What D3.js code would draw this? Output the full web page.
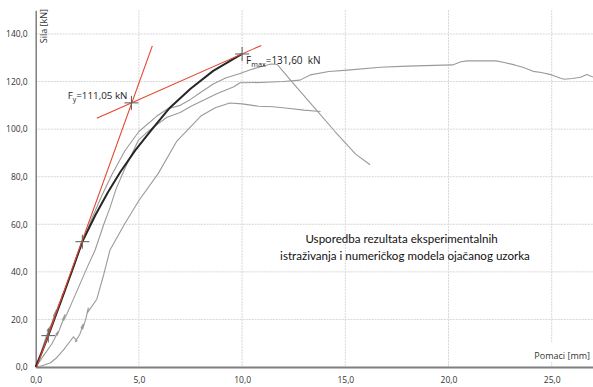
<!DOCTYPE html>
<html><head><meta charset="utf-8">
<script src="https://cdn.jsdelivr.net/npm/d3@7"></script>
<style>body{margin:0;background:#fff}svg{display:block}text{white-space:pre}</style>
</head><body>
<svg id="c" width="593" height="387"></svg>
<script>
const xTicks = [0, 5, 10, 15, 20, 25];
const yTicks = [0, 20, 40, 60, 80, 100, 120, 140];
const xLabel = "Pomaci [mm]";
const yLabel = "Sila [kN]";
const titleLines = ["Usporedba rezultata eksperimentalnih", "istraživanja i numeričkog modela ojačanog uzorka"];

const blackCurve = [[0,0],[0.3,6.3],[0.61,13.2],[1.2,27],[1.7,39],[2.26,52.7],[2.9,64],[3.5,73.5],[4.1,82],[4.83,91.2],[5.6,99.6],[6.5,109],[7.5,117],[8.6,124.5],[9.4,128.6],[10,131.6]];
const grayA = [[0,0],[0.25,6],[0.5,12.5],[0.7,17],[0.55,15.2],[0.62,15],[0.78,18.5],[1.0,24],[0.86,21.5],[0.92,21.2],[1.1,26],[1.4,32],[1.27,30],[1.33,29.8],[1.5,34.5],[1.8,41],[2.2,51],[2.7,62],[3.2,72],[3.7,81],[4.33,91],[5.0,99],[5.87,105.5],[6.4,108.6],[7.0,110],[7.5,112.5],[8.0,115.5],[8.6,119],[9.2,121.5],[9.9,123.4],[10.4,125],[10.9,126.2],[11.4,127.4],[11.7,127.2],[12.5,119],[13.5,109],[14.5,99],[15.5,89.5],[16.2,85]];
const grayB = [[0,0],[0.4,5],[0.8,10],[1.1,15],[0.98,13.8],[1.05,13.4],[1.25,18],[1.42,22],[1.3,20],[1.36,19.6],[1.55,23],[1.8,28],[2.2,36],[2.5,42],[2.88,49.2],[3.3,60],[3.6,67],[3.9,75],[4.3,83],[4.98,95.4],[5.5,99.5],[6.36,105],[7.0,107],[7.5,109.5],[8.2,112.5],[8.8,115],[9.6,117.8],[9.9,119.5],[10.9,119.6],[12.0,120],[12.8,120.6],[13.3,122.8],[14.2,124.2],[15.1,124.8],[16.7,126],[18,126.5],[20.2,127],[20.6,128.3],[20.9,128.7],[22.3,128.7],[22.7,128],[23.2,127],[23.6,126],[24.1,124.3],[24.5,123.8],[25,122.8],[25.4,121.5],[25.6,121],[26,121.3],[26.4,121.8],[26.7,123],[27,121.9]];
const grayC = [[0,0],[0.3,0.5],[0.7,1.7],[1.0,3.8],[1.34,7.1],[1.83,12.7],[2.0,11],[1.92,10.6],[2.15,14],[2.3,18],[2.2,16.5],[2.28,16],[2.45,21],[2.55,24.8],[2.48,22.5],[2.6,24],[2.96,28.5],[3.3,39],[3.6,49.2],[4.3,60],[5.0,70],[5.94,81.4],[6.84,95],[7.5,101],[8.0,105.5],[8.7,109],[9.4,111],[10,110.6],[10.8,109.6],[11.5,109.4],[12.2,108.8],[13,108],[13.8,107.4]];
const redSteep = [[0.05,0],[5.65,135]];
const redShallow = [[2.96,104.6],[10.93,135.2]];
const markers = [[0.61,13.2],[2.26,52.7],[4.64,111.05],[10,131.6]];
const fyText = ["F", "y", "=111,05 kN"];
const fmaxText = ["F", "max", "=131,60  kN"];
const fyPoint = [4.64, 111.05];
const fmaxPoint = [10, 131.6];

const svg = d3.select("#c");
const W = 593, H = 387;
const m = {l: 35.7, r: 0, t: 10.2, b: 20};
const x = d3.scaleLinear().domain([0, 27]).range([m.l, W - m.r]);
const y = d3.scaleLinear().domain([0, 150]).range([H - m.b, m.t]);
const fmt = v => d3.format(".1f")(v).replace(".", ",");
const FONT = "'Open Sans', 'Liberation Sans', sans-serif";

// grid
const grid = svg.append("g");
grid.selectAll(".gy").data(yTicks.filter(d => d > 0)).join("line")
  .attr("x1", m.l).attr("x2", W).attr("y1", d => y(d)).attr("y2", d => y(d))
  .attr("stroke", "#d6d6d6").attr("stroke-width", 1).attr("stroke-dasharray", "2,1");
grid.selectAll(".gx").data(xTicks.filter(d => d > 0)).join("line")
  .attr("x1", d => x(d)).attr("x2", d => x(d)).attr("y1", m.t).attr("y2", y(0))
  .attr("stroke", "#d6d6d6").attr("stroke-width", 1).attr("stroke-dasharray", "2,1");

// axes
const yAxis = d3.axisLeft(y).tickValues(yTicks).tickFormat(fmt).tickSize(0).tickPadding(8);
const gy = svg.append("g").attr("transform", `translate(${m.l},0)`).call(yAxis);
gy.select(".domain").attr("stroke", "#7f7f7f").attr("stroke-width", 1.5);
gy.selectAll("text").attr("font-family", FONT).attr("font-size", 8.5).attr("fill", "#333");

const xAxis = d3.axisBottom(x).tickValues(xTicks).tickFormat(fmt).tickSize(0).tickPadding(10);
const gx = svg.append("g").attr("transform", `translate(0,${y(0)})`).call(xAxis);
gx.select(".domain").attr("stroke", "#7f7f7f").attr("stroke-width", 2);
gx.selectAll("text").attr("font-family", FONT).attr("font-size", 8.5).attr("fill", "#333");

// axis labels
const xl = svg.append("g");
const xlt = xl.append("text").attr("x", W - 3).attr("y", y(0) - 8).attr("text-anchor", "end")
  .attr("font-family", FONT).attr("font-size", 9).attr("fill", "#333").text(xLabel);
const bb = xlt.node().getBBox();
xl.insert("rect", "text").attr("x", bb.x - 2).attr("y", bb.y - 6).attr("width", bb.width + 4).attr("height", bb.height + 6).attr("fill", "#fff");

svg.append("text").attr("transform", `translate(${m.l + 11},${m.t + 33}) rotate(-90)`)
  .attr("font-family", FONT).attr("font-size", 9).attr("fill", "#333").text(yLabel);

// curves
const line = d3.line().x(d => x(d[0])).y(d => y(d[1]));
const curves = svg.append("g").attr("fill", "none");
[grayA, grayB, grayC].forEach(c => curves.append("path").attr("d", line(c))
  .attr("stroke", "#9a9a9a").attr("stroke-width", 1.1).attr("stroke-linejoin", "round"));
curves.append("path").attr("d", line(blackCurve)).attr("stroke", "#262626").attr("stroke-width", 2).attr("stroke-linejoin", "round");
[redSteep, redShallow].forEach(c => curves.append("path").attr("d", line(c))
  .attr("stroke", "#e3452c").attr("stroke-width", 1.1));

// markers
const mk = svg.append("g").attr("stroke", "#666").attr("stroke-width", 1.1);
markers.forEach(p => {
  mk.append("line").attr("x1", x(p[0]) - 7).attr("x2", x(p[0]) + 7).attr("y1", y(p[1])).attr("y2", y(p[1]));
  mk.append("line").attr("x1", x(p[0])).attr("x2", x(p[0])).attr("y1", y(p[1]) - 7).attr("y2", y(p[1]) + 7);
});

// annotations
function annot(parts, px, py, anchorRight, size) {
  const t = svg.append("text").attr("font-family", FONT).attr("font-size", size).attr("fill", "#222")
    .attr("x", px).attr("y", py);
  t.append("tspan").text(parts[0]);
  t.append("tspan").attr("font-size", size * 0.72).attr("dy", 3).text(parts[1]);
  t.append("tspan").attr("dy", -3).text(parts[2]);
  if (anchorRight) t.attr("text-anchor", "end");
  return t;
}
annot(fyText, x(fyPoint[0]) - 4, y(fyPoint[1]) - 4, true, 9.8);
annot(fmaxText, x(fmaxPoint[0]) + 4, y(fmaxPoint[1]) + 10, false, 10);

// title
const titleTargets = [[401.5, 243], [405, 260]];
const tnodes = titleLines.map((s, i) => svg.append("text").attr("x", titleTargets[i][0]).attr("y", titleTargets[i][1])
    .attr("text-anchor", "middle").attr("font-family", "Lato, 'Open Sans', sans-serif")
    .attr("font-size", 12).attr("fill", "#111").text(s));
const fs = 12 * 250 / tnodes[1].node().getComputedTextLength();
tnodes.forEach(t => t.attr("font-size", fs));
</script>
</body></html>
